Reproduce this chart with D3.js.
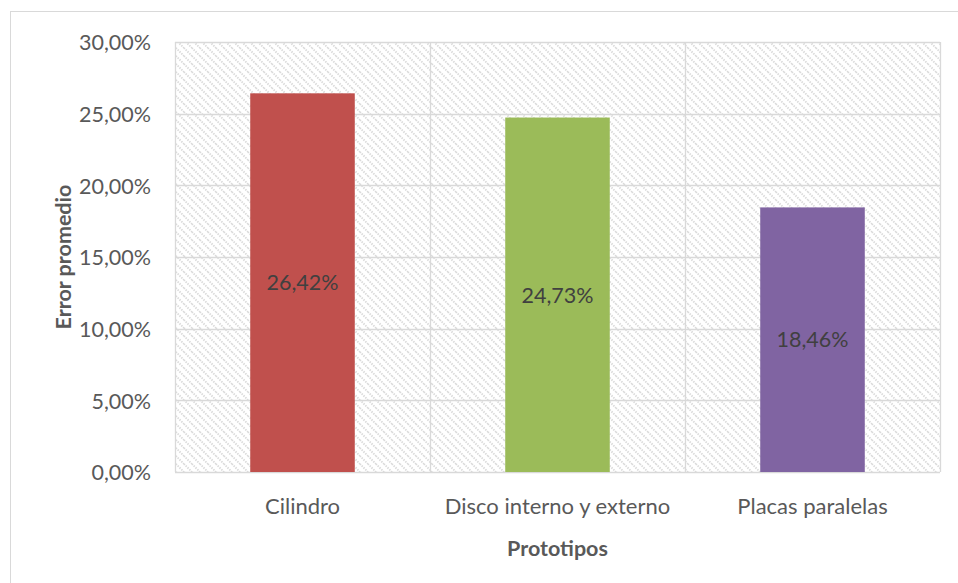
<!DOCTYPE html>
<html>
<head>
<meta charset="utf-8">
<script src="https://cdn.jsdelivr.net/npm/d3@7"></script>
<style>
  html, body { margin: 0; padding: 0; background: #fff; }
  svg { display: block; }
</style>
</head>
<body>
<svg id="chart" width="958" height="583"></svg>
<script>
// Average error per prototype
const categories = ["Cilindro", "Disco interno y externo", "Placas paralelas"];
const values = [0.2642, 0.2473, 0.1846];
const barColors = ["#C0504D", "#9BBB59", "#8064A2"];
const yTicks = [0, 0.05, 0.10, 0.15, 0.20, 0.25, 0.30];
const yTitle = "Error promedio";
const xTitle = "Prototipos";

const W = 958, H = 583;
const plot = { left: 175, right: 940, top: 42, bottom: 472 };
const font = "Lato, 'Open Sans', sans-serif";

const svg = d3.select("#chart");

// Diagonal hatch fill for the plot area
const defs = svg.append("defs");
const pat = defs.append("pattern")
  .attr("id", "hatch")
  .attr("patternUnits", "userSpaceOnUse")
  .attr("width", 8).attr("height", 8);
pat.append("rect").attr("width", 8).attr("height", 8).attr("fill", "#fff");
pat.append("path")
  .attr("d", "M-2,-2 L10,10 M-2,6 L2,10 M6,-2 L10,2")
  .attr("stroke", "#d9d9d9").attr("stroke-width", 1.9)
  .attr("stroke-dasharray", "1.4,1.2");

// Chart frame
svg.append("rect")
  .attr("x", 10.5).attr("y", 11.5)
  .attr("width", W).attr("height", H)
  .attr("fill", "#fff").attr("stroke", "#d9d9d9").attr("stroke-width", 1);

const x = d3.scaleBand().domain(categories)
  .range([plot.left, plot.right]).paddingInner(0.59).paddingOuter(0.295);
const xCell = d3.scaleBand().domain(categories).range([plot.left, plot.right]);
const y = d3.scaleLinear().domain([0, 0.30]).range([plot.bottom, plot.top]);

// Plot background
svg.append("rect")
  .attr("x", plot.left).attr("y", plot.top)
  .attr("width", plot.right - plot.left).attr("height", plot.bottom - plot.top)
  .attr("fill", "url(#hatch)");

const fmt = v => d3.format(".2f")(v * 100).replace(".", ",") + "%";

// Horizontal gridlines
svg.append("g").selectAll("line").data(yTicks).join("line")
  .attr("x1", plot.left).attr("x2", plot.right)
  .attr("y1", d => Math.round(y(d)) + 0.5).attr("y2", d => Math.round(y(d)) + 0.5)
  .attr("stroke", "#d9d9d9").attr("stroke-width", 1.3);

// Vertical gridlines at category boundaries
const vLines = categories.map(c => xCell(c)).concat([plot.right]);
svg.append("g").selectAll("line").data(vLines).join("line")
  .attr("x1", d => Math.round(d) + 0.5).attr("x2", d => Math.round(d) + 0.5)
  .attr("y1", plot.top).attr("y2", plot.bottom)
  .attr("stroke", "#d9d9d9").attr("stroke-width", 1.3);

// Bars
svg.append("g").selectAll("rect").data(values).join("rect")
  .attr("x", (d, i) => x(categories[i]))
  .attr("width", x.bandwidth())
  .attr("y", d => y(d))
  .attr("height", d => y(0) - y(d))
  .attr("fill", (d, i) => barColors[i]);

// Value labels centred in each bar
svg.append("g").selectAll("text").data(values).join("text")
  .attr("x", (d, i) => x(categories[i]) + x.bandwidth() / 2)
  .attr("y", d => (y(d) + y(0)) / 2)
  .attr("dy", "0.36em")
  .attr("text-anchor", "middle")
  .attr("font-family", font).attr("font-size", 21.5)
  .attr("fill", "#404040")
  .text(d => fmt(d));

// Y axis tick labels
const yAxis = d3.axisLeft(y).tickValues(yTicks).tickFormat(fmt).tickSize(0).tickPadding(24);
const gy = svg.append("g").attr("transform", `translate(${plot.left},0)`).call(yAxis);
gy.select(".domain").remove();
gy.selectAll("text")
  .attr("font-family", font).attr("font-size", 21.5)
  .attr("fill", "#595959").attr("dy", "0.36em");

// X axis category labels
const xAxis = d3.axisBottom(x).tickSize(0).tickPadding(26);
const gx = svg.append("g").attr("transform", `translate(0,${plot.bottom})`).call(xAxis);
gx.select(".domain").remove();
gx.selectAll("text")
  .attr("font-family", font).attr("font-size", 22)
  .attr("fill", "#595959");

// Axis titles
svg.append("text")
  .attr("x", (plot.left + plot.right) / 2).attr("y", 556)
  .attr("text-anchor", "middle")
  .attr("font-family", font).attr("font-size", 21.5).attr("font-weight", "bold")
  .attr("fill", "#595959")
  .text(xTitle);

svg.append("text")
  .attr("transform", `translate(71,${(plot.top + plot.bottom) / 2}) rotate(-90)`)
  .attr("text-anchor", "middle")
  .attr("font-family", font).attr("font-size", 21.5).attr("font-weight", "bold")
  .attr("fill", "#595959")
  .text(yTitle);
</script>
</body>
</html>
